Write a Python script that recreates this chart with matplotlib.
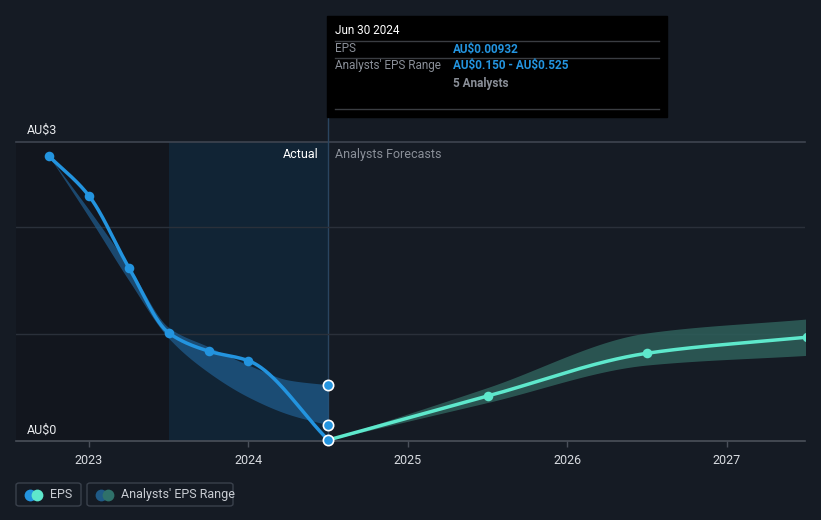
import numpy as np
import matplotlib
matplotlib.use("Agg")
import matplotlib.pyplot as plt
from matplotlib.patches import Rectangle, FancyBboxPatch

plt.rcParams['font.family'] = ['Roboto', 'DejaVu Sans']

# past EPS (decimal years)
past_x = [2022.75, 2023.0, 2023.25, 2023.5, 2023.75, 2024.0, 2024.5]
past_eps = [2.66, 2.29, 1.62, 1.01, 0.84, 0.75, 0.00932]

# analysts' range over the past
band_x = [2022.75, 2023.0, 2023.25, 2023.5, 2023.75, 2024.0, 2024.25, 2024.5]
band_low = [2.66, 2.09, 1.50, 0.96, 0.64, 0.41, 0.25, 0.150]
band_high = [2.66, 2.16, 1.63, 1.06, 0.88, 0.71, 0.57, 0.525]

# analyst forecasts
fc_x = [2024.5, 2025.5, 2026.5, 2027.5]
fc_eps = [0.00932, 0.42, 0.82, 0.97]
fc_low = [0.00932, 0.36, 0.71, 0.80]
fc_high = [0.00932, 0.50, 1.01, 1.14]

xticks = [2023, 2024, 2025, 2026, 2027]

BG = '#151b24'
BLUE = '#2394df'
TEAL = '#5ee8cc'


def monotone(x, y, n=200):
    # Fritsch-Carlson monotone cubic
    x = np.asarray(x, float)
    y = np.asarray(y, float)
    h = np.diff(x)
    d = np.diff(y) / h
    m = np.zeros_like(y)
    m[0], m[-1] = d[0], d[-1]
    for i in range(1, len(y) - 1):
        if d[i - 1] * d[i] <= 0:
            m[i] = 0
        else:
            w1 = 2 * h[i] + h[i - 1]
            w2 = h[i] + 2 * h[i - 1]
            m[i] = (w1 + w2) / (w1 / d[i - 1] + w2 / d[i])
    xs = np.linspace(x[0], x[-1], n)
    idx = np.clip(np.searchsorted(x, xs) - 1, 0, len(x) - 2)
    t = (xs - x[idx]) / h[idx]
    h00 = 2 * t**3 - 3 * t**2 + 1
    h10 = t**3 - 2 * t**2 + t
    h01 = -2 * t**3 + 3 * t**2
    h11 = t**3 - t**2
    ys = h00 * y[idx] + h10 * h[idx] * m[idx] + h01 * y[idx + 1] + h11 * h[idx] * m[idx + 1]
    return xs, ys


W, H = 821, 520
fig = plt.figure(figsize=(W / 100, H / 100), dpi=100, facecolor=BG)


def fx(px):
    return px / W


def fy(py):
    return 1 - py / H


ax = fig.add_axes([fx(16), fy(441), fx(805) - fx(16), fy(142) - fy(441)])
ax.set_facecolor(BG)
x0, x1 = 2022.542, 2027.49
ax.set_xlim(x0, x1)
ax.set_ylim(0, 2.794)

# background regions
ax.axvspan(x0, 2023.5, color='#12161e', zorder=0, lw=0)
ax.axvspan(2023.5, 2024.5, color='#112435', zorder=0, lw=0)
ax.axvline(2024.5, color='#2a4560', lw=1, zorder=1)
fig.add_artist(plt.Line2D([fx(327.5), fx(327.5)], [fy(117), fy(142)], color='#2a4560',
                          lw=1, transform=fig.transFigure))

# grid
for g in [1, 2]:
    ax.axhline(g, color='#2a303a', lw=1, zorder=1)
ax.axhline(2.794, color='#3e4450', lw=1.2, zorder=1, clip_on=False)

# bands
bx, bl = monotone(band_x, band_low)
_, bh = monotone(band_x, band_high)
ax.fill_between(bx, bl, bh, color='#1f5a8a', alpha=0.75, lw=0, zorder=2)
fx_, fl = monotone(fc_x, fc_low)
_, fh = monotone(fc_x, fc_high)
ax.fill_between(fx_, fl, fh, color='#2e5f5a', alpha=0.85, lw=0, zorder=2)

# lines
lx, ly = monotone(past_x, past_eps)
ax.plot(lx, ly, color=BLUE, lw=2.5, zorder=3, solid_capstyle='round')
ax.scatter(past_x[:-1], past_eps[:-1], s=48, color=BLUE, zorder=4, lw=0)
ax.scatter([2024.5, 2024.5], [band_high[-1], band_low[-1]], s=55, color=BLUE,
           edgecolors='white', linewidths=1.2, zorder=5)
gx, gy = monotone(fc_x, fc_eps)
ax.plot(gx, gy, color=TEAL, lw=2.5, zorder=3)
ax.scatter(fc_x[1:], fc_eps[1:], s=48, color=TEAL, zorder=4, lw=0)
ax.scatter([2024.5], [past_eps[-1]], s=55, color=BLUE,
           edgecolors='white', linewidths=1.2, zorder=6, clip_on=False)

# axes styling
for s in ['top', 'right', 'left']:
    ax.spines[s].set_visible(False)
ax.spines['bottom'].set_color('#4a505a')
ax.spines['bottom'].set_linewidth(1.2)
ax.set_yticks([])
ax.set_xticks(xticks)
ax.set_xticklabels([str(t) for t in xticks])
ax.tick_params(axis='x', colors='#4a505a', length=4, width=1, labelcolor='#d8dbe0',
               labelsize=9, pad=5)

# y labels
fig.text(fx(27), fy(130), 'AU\\$3', color='#e8eaed', fontsize=9, va='center', ha='left')
fig.text(fx(27), fy(430), 'AU\\$0', color='#e8eaed', fontsize=9, va='center', ha='left')

# actual / forecast labels
fig.text(fx(319), fy(154), 'Actual', color='#ffffff', fontsize=9, va='center', ha='right')
fig.text(fx(335), fy(154), 'Analysts Forecasts', color='#8a8f98', fontsize=9, va='center', ha='left')

# tooltip
fig.add_artist(Rectangle((fx(327), fy(117)), fx(667) - fx(327), fy(16) - fy(117),
                         transform=fig.transFigure, color='#000000', zorder=10))
for yy in [41, 58, 109]:
    fig.add_artist(plt.Line2D([fx(335), fx(659)], [fy(yy), fy(yy)], color='#3a3d42',
                              lw=1, transform=fig.transFigure, zorder=11))
fig.text(fx(335), fy(31), 'Jun 30 2024', color='#ffffff', fontsize=8.5, va='center', zorder=12)
fig.text(fx(335), fy(49), 'EPS', color='#8a8f98', fontsize=8.5, va='center', zorder=12)
fig.text(fx(453), fy(49), 'AU\\$0.00932', color=BLUE, fontsize=8.5, va='center',
         fontweight='bold', zorder=12)
fig.text(fx(335), fy(66), "Analysts' EPS Range", color='#8a8f98', fontsize=8.5, va='center', zorder=12)
fig.text(fx(453), fy(66), 'AU\\$0.150 - AU\\$0.525', color=BLUE, fontsize=8.5, va='center',
         fontweight='bold', zorder=12)
fig.text(fx(453), fy(83), '5 Analysts', color='#8a8f98', fontsize=8.5, va='center',
         fontweight='bold', zorder=12)

# legend
for (lx0, lx1, label, c1, c2) in [(16, 81, 'EPS', BLUE, TEAL),
                                  (87, 233, "Analysts' EPS Range", '#1f5a86', '#2f716a')]:
    fig.add_artist(FancyBboxPatch((fx(lx0), fy(506)), fx(lx1) - fx(lx0), fy(483) - fy(506),
                                  boxstyle='round,pad=0,rounding_size=0.004',
                                  transform=fig.transFigure, fc='none', ec='#3a414c', lw=1))
    cy = fy(494.5)
    for cx, col in [(lx0 + 14, c1), (lx0 + 21, c2)]:
        fig.add_artist(plt.Line2D([fx(cx)], [cy], marker='o', markersize=8.5, color=col,
                                  markeredgewidth=0, transform=fig.transFigure))
    fig.text(fx(lx0 + 34), cy, label, color='#c8ccd2', fontsize=9, va='center', ha='left')

fig.savefig('out.png', dpi=100, facecolor=BG)
